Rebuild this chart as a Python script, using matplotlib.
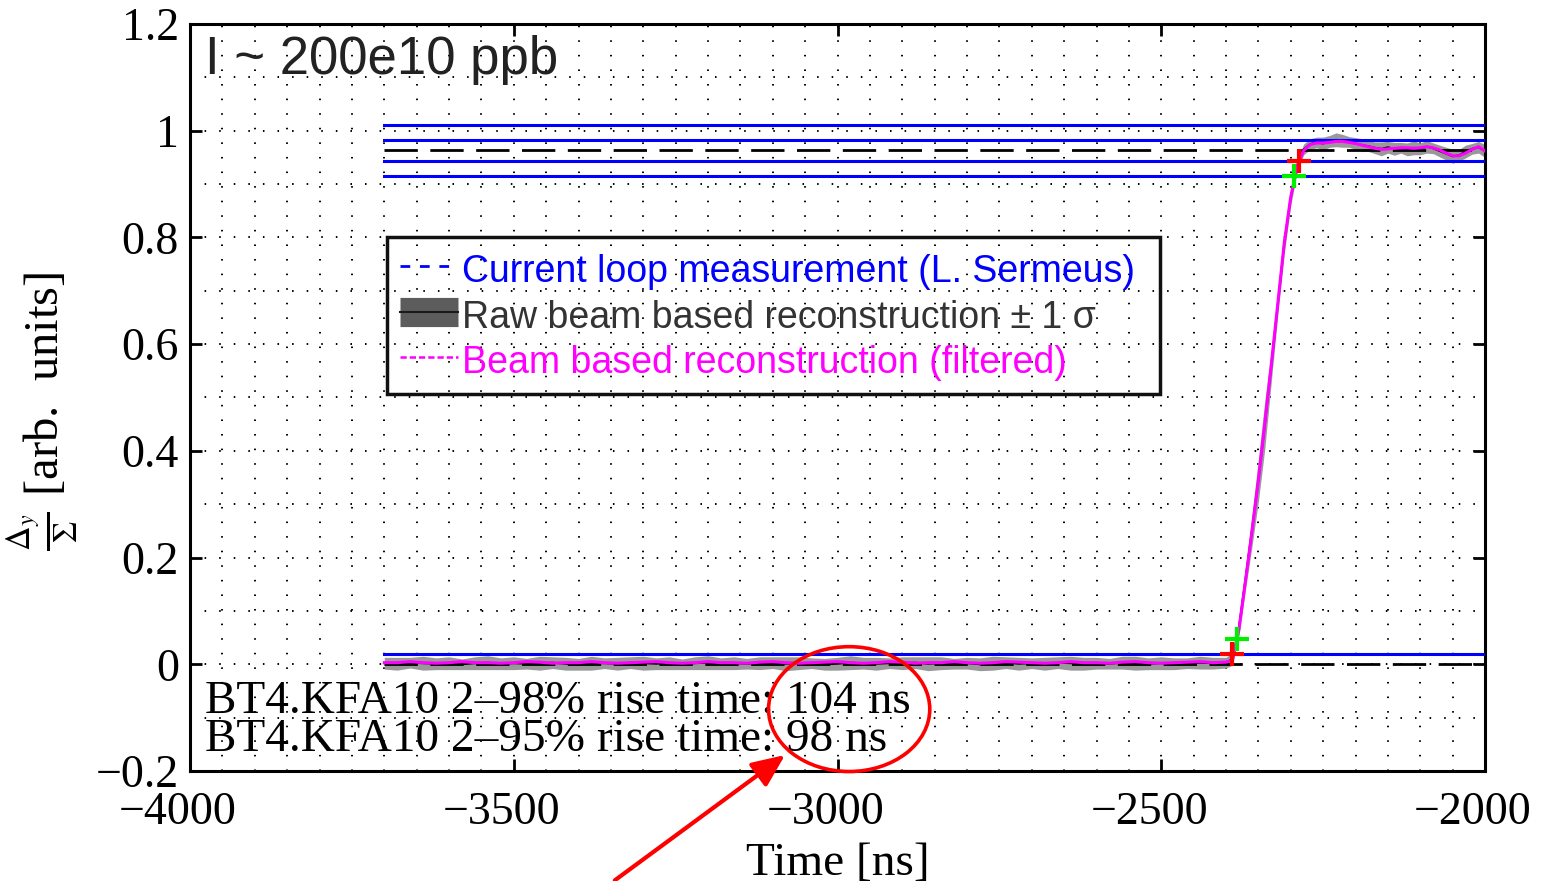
import numpy as np
import matplotlib
matplotlib.use("Agg")
import matplotlib.pyplot as plt
import matplotlib.transforms as mtransforms
from matplotlib.lines import Line2D
from matplotlib.patches import Ellipse
from matplotlib.ticker import MultipleLocator

# ---------------- data ----------------
time_base = [-3700, -3680, -3660, -3640, -3620, -3600, -3580, -3560, -3540, -3520,
             -3500, -3480, -3460, -3440, -3420, -3400, -3380, -3360, -3340, -3320,
             -3300, -3280, -3260, -3240, -3220, -3200, -3180, -3160, -3140, -3120,
             -3100, -3080, -3060, -3040, -3020, -3000, -2980, -2960, -2940, -2920,
             -2900, -2880, -2860, -2840, -2820, -2800, -2780, -2760, -2740, -2720,
             -2700, -2680, -2660, -2640, -2620, -2600, -2580, -2560, -2540, -2520,
             -2500, -2480, -2460, -2440, -2420, -2400]
time_step = [-2390, -2380, -2370, -2360, -2350, -2340, -2330, -2320, -2310, -2300,
             -2290, -2280, -2270, -2260, -2250, -2240, -2230, -2220, -2210, -2200,
             -2190, -2180, -2170, -2160, -2150, -2140, -2130, -2120, -2110, -2100,
             -2090, -2080, -2070, -2060, -2050, -2040, -2030, -2020, -2010, -2000]

raw_base = [0.002, 0.001, 0.003, 0.002, 0.001, 0.002, 0.000, 0.002, 0.003, 0.001,
            0.002, 0.001, 0.002, 0.003, 0.001, 0.000, 0.002, 0.002, 0.001, 0.003,
            0.002, 0.001, 0.002, 0.000, 0.002, 0.003, 0.001, 0.002, 0.001, 0.002,
            0.003, 0.001, 0.002, 0.002, 0.000, 0.001, 0.003, 0.002, 0.001, 0.002,
            0.002, 0.003, 0.001, 0.002, 0.001, 0.002, 0.000, 0.002, 0.003, 0.001,
            0.002, 0.001, 0.003, 0.002, 0.001, 0.002, 0.001, 0.003, 0.002, 0.001,
            0.002, 0.001, 0.002, 0.003, 0.002, 0.003]
raw_step = [0.010, 0.070, 0.160, 0.250, 0.345, 0.450, 0.560, 0.675, 0.790, 0.875,
            0.935, 0.965, 0.975, 0.978, 0.976, 0.980, 0.983, 0.981, 0.979, 0.976,
            0.973, 0.971, 0.968, 0.966, 0.969, 0.966, 0.968, 0.965, 0.968, 0.966,
            0.970, 0.967, 0.962, 0.957, 0.952, 0.954, 0.961, 0.966, 0.969, 0.962]

sigma_base = [0.011, 0.012, 0.010, 0.013, 0.011, 0.012, 0.010, 0.012, 0.013, 0.011,
              0.012, 0.010, 0.013, 0.011, 0.012, 0.011, 0.013, 0.010, 0.012, 0.011,
              0.013, 0.011, 0.012, 0.010, 0.012, 0.013, 0.011, 0.012, 0.010, 0.012,
              0.011, 0.013, 0.012, 0.010, 0.011, 0.012, 0.013, 0.011, 0.012, 0.010,
              0.012, 0.011, 0.013, 0.012, 0.010, 0.011, 0.012, 0.013, 0.011, 0.012,
              0.010, 0.012, 0.011, 0.013, 0.012, 0.011, 0.010, 0.012, 0.013, 0.011,
              0.012, 0.011, 0.010, 0.012, 0.011, 0.010]
sigma_step = [0.012, 0.015, 0.020, 0.030, 0.040, 0.045, 0.030, 0.020, 0.020, 0.015,
              0.012, 0.010, 0.010, 0.010, 0.012, 0.011, 0.013, 0.012, 0.010, 0.011,
              0.012, 0.010, 0.011, 0.013, 0.011, 0.012, 0.010, 0.012, 0.013, 0.011,
              0.012, 0.010, 0.011, 0.012, 0.013, 0.011, 0.012, 0.010, 0.011, 0.012]

filt_base = [0.003, 0.003, 0.005, 0.003, 0.002, 0.003, 0.005, 0.003, 0.003, 0.002,
             0.003, 0.005, 0.004, 0.002, 0.003, 0.003, 0.005, 0.003, 0.002, 0.003,
             0.004, 0.005, 0.003, 0.002, 0.003, 0.005, 0.003, 0.003, 0.002, 0.004,
             0.005, 0.003, 0.002, 0.003, 0.004, 0.005, 0.003, 0.002, 0.003, 0.005,
             0.004, 0.002, 0.003, 0.003, 0.005, 0.003, 0.002, 0.003, 0.005, 0.004,
             0.003, 0.002, 0.003, 0.005, 0.003, 0.003, 0.002, 0.004, 0.005, 0.003,
             0.002, 0.003, 0.004, 0.005, 0.003, 0.004]
filt_step = [0.008, 0.065, 0.155, 0.248, 0.345, 0.452, 0.562, 0.676, 0.790, 0.876,
             0.934, 0.963, 0.974, 0.977, 0.977, 0.978, 0.980, 0.980, 0.978, 0.976,
             0.973, 0.970, 0.967, 0.965, 0.966, 0.967, 0.968, 0.968, 0.967, 0.968,
             0.970, 0.968, 0.964, 0.958, 0.953, 0.953, 0.958, 0.965, 0.970, 0.962]

# current loop measurement (black dashed) levels and time span
loop_levels = [0.0, 0.963]
loop_span = [-3700, -2000]
# rise-time threshold lines (2 %, 95 %, 98 %, 102 %, 105 %)
threshold_levels = [0.019, 0.915, 0.944, 0.982, 1.011]
# rise-time markers
red_marks_t = [-2391, -2287]
red_marks_v = [0.019, 0.944]
green_marks_t = [-2383, -2295]
green_marks_v = [0.048, 0.915]

x_ticks = [-4000, -3500, -3000, -2500, -2000]
x_tick_labels = ["\u22124000", "\u22123500", "\u22123000", "\u22122500", "\u22122000"]
y_ticks = [-0.2, 0, 0.2, 0.4, 0.6, 0.8, 1.0, 1.2]
y_tick_labels = ["\u22120.2", "0", "0.2", "0.4", "0.6", "0.8", "1", "1.2"]

legend_labels = ["Current loop measurement (L. Sermeus)",
                 "Raw beam based reconstruction \u00b1 1 \u03c3",
                 "Beam based reconstruction (filtered)"]
rise_text = ["BT4.KFA10 2\u201398% rise time: 104 ns",
             "BT4.KFA10 2\u201395% rise time: 98 ns"]
intensity_text = "I ~ 200e10 ppb"

# annotation (circle + arrow) placement
circle_center = (-2982, -0.084)
circle_size = (249, 0.234)
arrow_tail = (-3344, -0.405)
arrow_head = (-3081, -0.170)

# ---------------- plotting ----------------
plt.rcParams["font.family"] = ["Liberation Serif", "DejaVu Serif"]
plt.rcParams["mathtext.fontset"] = "stix"

time_ns = np.array(time_base + time_step, dtype=float)
raw = np.array(raw_base + raw_step)
sigma = np.array(sigma_base + sigma_step)
filt = np.array(filt_base + filt_step)

fig = plt.figure(figsize=(15.42, 8.81), dpi=100)
ax = fig.add_axes([190 / 1542, 1 - 771 / 881, 1295 / 1542, 747 / 881])

ax.fill_between(time_ns, raw - sigma, raw + sigma, color="0.6", lw=0, zorder=2)
for lv in loop_levels:
    ax.plot(loop_span, [lv, lv], color="black", lw=2.0, ls=(0, (12, 4.5)), zorder=2.5)
ax.plot(time_ns, raw, color="black", lw=1.4, zorder=3)
ax.plot(time_ns, filt, color="#ff00ff", lw=2.2, zorder=4)
for lv in threshold_levels:
    ax.plot(loop_span, [lv, lv], color="#0000ff", lw=2.2, zorder=3.5)
ax.plot(red_marks_t, red_marks_v, ls="none", marker="+", ms=17, mew=3,
        color="#ff0000", zorder=6)
ax.plot(green_marks_t, green_marks_v, ls="none", marker="+", ms=17, mew=3,
        color="#00ee00", zorder=6)

ax.set_xlim(-4000, -2000)
ax.set_ylim(-0.2, 1.2)
ax.set_xticks(x_ticks)
ax.set_xticklabels(x_tick_labels)
ax.set_yticks(y_ticks)
ax.set_yticklabels(y_tick_labels)
ax.xaxis.set_minor_locator(MultipleLocator(50))
ax.yaxis.set_minor_locator(MultipleLocator(0.1))
ax.tick_params(which="major", direction="in", length=8.5, width=2, top=True,
               right=True, labelsize=33)
ax.tick_params(axis="x", which="major", pad=15)
ax.tick_params(axis="y", which="major", pad=8)
ax.tick_params(which="minor", length=0)
shift = mtransforms.ScaledTranslation(-12 / 100, 0, fig.dpi_scale_trans)
for lbl in ax.get_xticklabels():
    lbl.set_transform(lbl.get_transform() + shift)
ax.grid(which="both", color="black", lw=1.4, ls=(0, (0.8, 6.7)))
ax.set_axisbelow(True)
for sp in ax.spines.values():
    sp.set_linewidth(2.2)

ax.set_xlabel("Time [ns]", fontsize=34)
ax.xaxis.set_label_coords(0.5, -0.096)
ax.set_ylabel(r"$\frac{\Delta_y}{\Sigma}$ [arb.  units]", fontsize=35)
ax.yaxis.set_label_coords(-0.084, 0.482)

ax.text(0.0116, 0.933, intensity_text, transform=ax.transAxes, fontsize=38,
        family=["Liberation Sans", "DejaVu Sans"], color="#222222", va="baseline")
ax.text(0.0116, 0.0776, rise_text[0], transform=ax.transAxes, fontsize=34,
        va="baseline", zorder=7)
ax.text(0.0116, 0.0268, rise_text[1], transform=ax.transAxes, fontsize=34,
        va="baseline", zorder=7)

handles = [
    Line2D([], [], color="#0000ff", lw=2.0, ls=(0, (3.5, 3.5))),
    (Line2D([], [], color="#5c5c5c", lw=21, solid_capstyle="butt"),
     Line2D([], [], color="#1a1a1a", lw=1.5)),
    Line2D([], [], color="#ff00ff", lw=1.8, ls=(0, (2.5, 1.2))),
]
x0 = (387 - 190) / 1295
w = (1160 - 387) / 1295
ytop = (771 - 237) / 747
leg = ax.legend(handles, legend_labels, loc="upper left", mode="expand",
                bbox_to_anchor=(x0, ytop - 0.3, w, 0.3),
                prop={"family": ["Liberation Sans", "DejaVu Sans"], "size": 27},
                frameon=True, fancybox=False, framealpha=1,
                borderpad=0.35, borderaxespad=0,
                handlelength=1.55, handleheight=1.2, handletextpad=0.1,
                labelspacing=0.15)
frame = leg.get_frame()
frame.set_facecolor("none")
frame.set_edgecolor("#111111")
frame.set_linewidth(2.5)
for txt, col in zip(leg.get_texts(), ["#0000ff", "#333333", "#ff00ff"]):
    txt.set_color(col)

ell = Ellipse(circle_center, circle_size[0], circle_size[1], fill=False,
              edgecolor="#ff0000", lw=2.6, clip_on=False, zorder=8)
ax.add_patch(ell)
ax.annotate("", xy=arrow_head, xytext=arrow_tail, xycoords="data",
            textcoords="data", annotation_clip=False,
            arrowprops=dict(arrowstyle="-|>,head_length=0.8,head_width=0.35",
                            color="#ff0000", lw=3, mutation_scale=25,
                            shrinkA=0, shrinkB=0))

fig.savefig("out.png", dpi=100)
